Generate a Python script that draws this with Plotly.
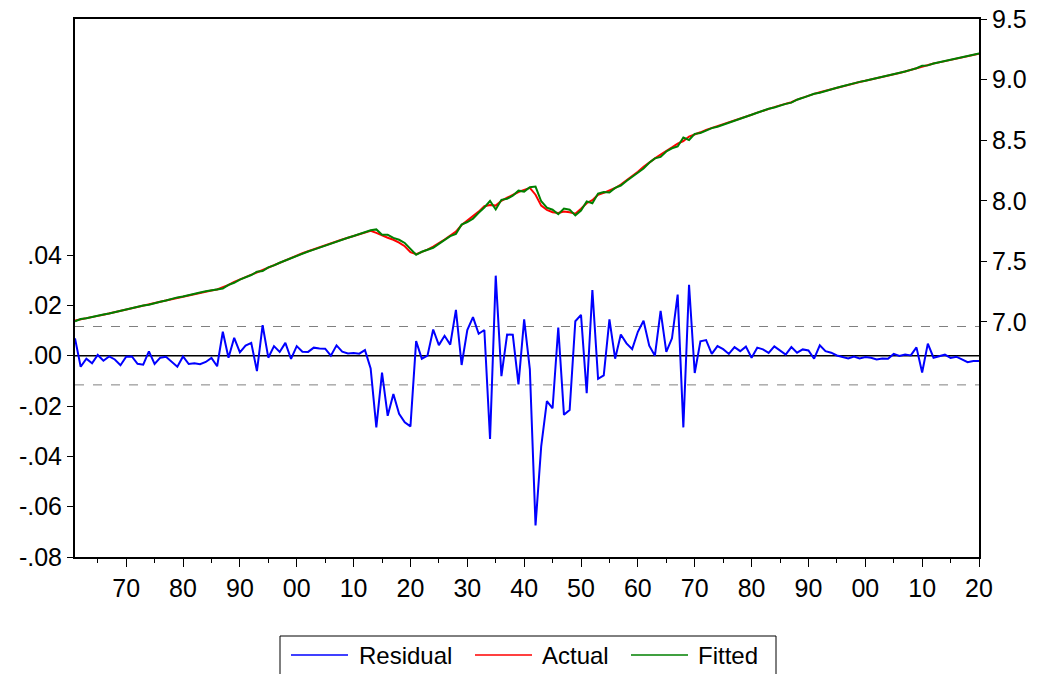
import numpy as np
import plotly.graph_objects as go

# Annual observations 1861-2020
years = list(range(1861, 2021))

# Regression residuals (left axis)
residual = [
    0.0069, -0.0044, -0.0012, -0.0030, 0.0003, -0.0020, -0.0003, -0.0015, -0.0038, -0.0004,
    -0.0003, -0.0032, -0.0036, 0.0017, -0.0033, -0.0008, -0.0004, -0.0025, -0.0044, -0.0003,
    -0.0033, -0.0030, -0.0034, -0.0025, -0.0009, -0.0042, 0.0095, -0.0008, 0.0071, 0.0013,
    0.0040, 0.0051, -0.0061, 0.0121, -0.0008, 0.0038, 0.0015, 0.0051, -0.0013, 0.0038,
    0.0016, 0.0015, 0.0032, 0.0029, 0.0028, 0.0000, 0.0041, 0.0016, 0.0009, 0.0011,
    0.0008, 0.0022, -0.0051, -0.0285, -0.0067, -0.0239, -0.0152, -0.0231, -0.0265, -0.0281,
    0.0058, -0.0012, 0.0000, 0.0104, 0.0042, 0.0079, 0.0044, 0.0182, -0.0037, 0.0102,
    0.0153, 0.0087, 0.0102, -0.0331, 0.0318, -0.0081, 0.0084, 0.0083, -0.0114, 0.0144,
    -0.0053, -0.0675, -0.0360, -0.0181, -0.0209, 0.0112, -0.0235, -0.0216, 0.0137, 0.0162,
    -0.0149, 0.0261, -0.0092, -0.0078, 0.0144, -0.0012, 0.0084, 0.0049, 0.0026, 0.0095,
    0.0139, 0.0040, 0.0000, 0.0178, 0.0015, 0.0069, 0.0243, -0.0285, 0.0282, -0.0069,
    0.0057, 0.0062, 0.0007, 0.0038, 0.0026, 0.0007, 0.0034, 0.0018, 0.0036, -0.0008,
    0.0032, 0.0025, 0.0011, 0.0037, 0.0020, 0.0004, 0.0034, 0.0012, 0.0025, 0.0021,
    -0.0012, 0.0041, 0.0018, 0.0012, 0.0001, -0.0005, -0.0011, -0.0003, -0.0011, -0.0005,
    -0.0008, -0.0015, -0.0011, -0.0012, 0.0007, -0.0001, 0.0005, 0.0001, 0.0033, -0.0067,
    0.0048, -0.0008, -0.0001, 0.0004, -0.0009, -0.0004, -0.0015, -0.0026, -0.0021, -0.0021,
]

# Actual series (right axis)
actual = [
    7.012, 7.020, 7.030, 7.040, 7.050, 7.060, 7.070, 7.080, 7.091, 7.101,
    7.112, 7.121, 7.132, 7.143, 7.154, 7.166, 7.177, 7.188, 7.198, 7.210,
    7.220, 7.230, 7.240, 7.250, 7.259, 7.268, 7.285, 7.305, 7.330, 7.350,
    7.370, 7.392, 7.408, 7.432, 7.450, 7.470, 7.490, 7.512, 7.530, 7.550,
    7.567, 7.583, 7.600, 7.617, 7.633, 7.648, 7.665, 7.680, 7.695, 7.710,
    7.725, 7.741, 7.752, 7.735, 7.712, 7.695, 7.678, 7.655, 7.625, 7.575,
    7.560, 7.578, 7.597, 7.622, 7.648, 7.680, 7.712, 7.745, 7.800, 7.835,
    7.868, 7.910, 7.955, 7.965, 7.960, 8.000, 8.025, 8.050, 8.072, 8.090,
    8.106, 8.050, 7.960, 7.925, 7.905, 7.900, 7.912, 7.905, 7.893, 7.935,
    7.980, 8.005, 8.050, 8.065, 8.082, 8.105, 8.134, 8.168, 8.200, 8.240,
    8.280, 8.318, 8.350, 8.380, 8.408, 8.440, 8.472, 8.493, 8.530, 8.545,
    8.565, 8.585, 8.600, 8.615, 8.630, 8.645, 8.660, 8.677, 8.693, 8.710,
    8.727, 8.744, 8.760, 8.773, 8.787, 8.800, 8.813, 8.835, 8.852, 8.867,
    8.882, 8.895, 8.908, 8.920, 8.933, 8.945, 8.958, 8.970, 8.980, 8.990,
    9.000, 9.010, 9.020, 9.032, 9.043, 9.055, 9.067, 9.080, 9.097, 9.108,
    9.122, 9.132, 9.142, 9.152, 9.162, 9.172, 9.182, 9.192, 9.203, 9.213,
]

# Fitted = actual - residual
fitted = [round(a - r, 4) for a, r in zip(actual, residual)]

# Standard error of the regression (band around zero)
se_regression = 0.0116

x_tick_years = list(range(1870, 2021, 10))
x_tick_labels = ["70", "80", "90", "00", "10", "20", "30", "40", "50", "60",
                 "70", "80", "90", "00", "10", "20"]
x_minor_years = list(range(1865, 2020, 10))
resid_ticks = [-0.08, -0.06, -0.04, -0.02, 0.00, 0.02, 0.04]
resid_tick_labels = ["-.08", "-.06", "-.04", "-.02", ".00", ".02", ".04"]
level_ticks = [7.0, 7.5, 8.0, 8.5, 9.0, 9.5]
level_tick_labels = ["7.0", "7.5", "8.0", "8.5", "9.0", "9.5"]

W, H = 1044, 674
L, R, T, B = 75, 979, 19, 557  # plot-area edges in pixels

TICK_FONT = dict(family="Liberation Sans, Arial", size=25, color="black")
LEG_FONT = dict(family="Liberation Sans, Arial", size=24, color="black")


def px_x(px):
    return (px - L) / (R - L)


def px_y(py):
    return (B - py) / (B - T)


fig = go.Figure()
fig.add_trace(go.Scatter(x=years, y=residual, mode="lines", name="Residual",
                         line=dict(color="#0000FF", width=2), yaxis="y"))
fig.add_trace(go.Scatter(x=years, y=actual, mode="lines", name="Actual",
                         line=dict(color="#FF0000", width=2), yaxis="y2"))
fig.add_trace(go.Scatter(x=years, y=fitted, mode="lines", name="Fitted",
                         line=dict(color="#008000", width=2), yaxis="y2"))

shapes = [
    # zero line and +/- 1 S.E. band
    dict(type="line", xref="paper", yref="y", x0=0, x1=1, y0=0, y1=0,
         line=dict(color="black", width=1.5), layer="below"),
    dict(type="line", xref="paper", yref="y", x0=0, x1=1, y0=se_regression, y1=se_regression,
         line=dict(color="#808080", width=1, dash="dash"), layer="below"),
    dict(type="line", xref="paper", yref="y", x0=0, x1=1, y0=-se_regression, y1=-se_regression,
         line=dict(color="#808080", width=1, dash="dash"), layer="below"),
    # legend box
    dict(type="rect", xref="paper", yref="paper", x0=px_x(280), x1=px_x(776),
         y0=px_y(690), y1=px_y(636), line=dict(color="black", width=1),
         fillcolor="white"),
]
annotations = []
legend_items = [("Residual", "#0000FF", 291, 348, 357),
                ("Actual", "#FF0000", 475, 532, 540),
                ("Fitted", "#008000", 631, 688, 696)]
for name, color, lx0, lx1, tx in legend_items:
    shapes.append(dict(type="line", xref="paper", yref="paper",
                       x0=px_x(lx0), x1=px_x(lx1), y0=px_y(655), y1=px_y(655),
                       line=dict(color=color, width=1.5)))
    annotations.append(dict(text=name, xref="paper", yref="paper",
                            x=px_x(tx), y=px_y(655), xanchor="left", yanchor="middle",
                            showarrow=False, font=LEG_FONT))

axis_common = dict(tickmode="array", ticks="outside", tickcolor="black", tickwidth=1,
                   showgrid=False, zeroline=False, showline=True, linecolor="black",
                   linewidth=2, tickfont=TICK_FONT, automargin=False)

fig.update_layout(
    width=W, height=H,
    margin=dict(l=L, r=W - R, t=T, b=H - B, pad=0),
    paper_bgcolor="white", plot_bgcolor="white",
    showlegend=False,
    shapes=shapes, annotations=annotations,
    xaxis=dict(range=[1861, 2020], tickvals=x_tick_years, ticktext=x_tick_labels,
               ticklen=8, mirror=True,
               minor=dict(tickmode="array", tickvals=x_minor_years, ticks="outside",
                          ticklen=4, tickcolor="black", showgrid=False),
               **axis_common),
    yaxis=dict(range=[-0.08, 0.1338], tickvals=resid_ticks, ticktext=resid_tick_labels,
               ticklen=6, **axis_common),
    yaxis2=dict(range=[5.06, 9.5], overlaying="y", side="right",
                tickvals=level_ticks, ticktext=level_tick_labels, ticklen=6,
                **axis_common),
)

fig.write_html("out.html")
